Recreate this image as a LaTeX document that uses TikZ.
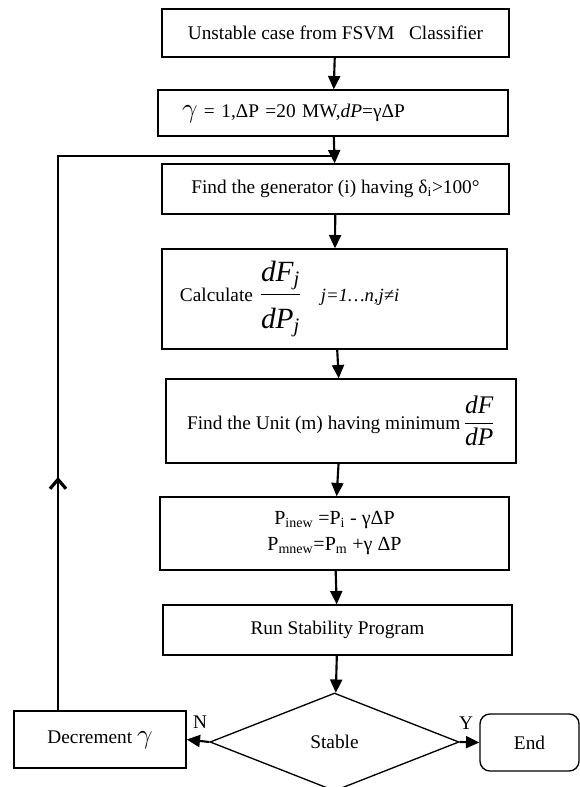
\documentclass[tikz,border=0pt]{standalone}
\usepackage{amsmath}
\usepackage{fontspec}
\setmainfont{Liberation Serif}
\usetikzlibrary{shapes.geometric,arrows.meta,decorations.markings}

\begin{document}
\begin{tikzpicture}[x=0.75pt,y=-0.75pt,
    box/.style={draw,line width=1pt,inner sep=0pt,align=center,font=\fontsize{14.5}{18}\selectfont},
    link/.style={line width=1.6pt,-{Triangle[length=10pt,width=9pt]}}]
            \useasboundingbox (0,0) rectangle (580,787);

            \node[box,minimum width=260.3pt,minimum height=36pt] (unstable) at (335.5,33) {Unstable case from FSVM\ \ \ Classifier};
            \node[box,text width=226.5pt,inner xsep=18pt,minimum height=34.5pt,align=left] (init) at (333,113) {{\fontsize{21}{21}\selectfont$\gamma$} = 1,ΔP =20 MW,\textit{dP}=γΔP};
            \node[box,minimum width=260.3pt,minimum height=37.5pt] (generator) at (335.5,189) {Find the generator (i) having δ\textsubscript{i}>100°};
            \node[box,text width=231.8pt,inner xsep=13.5pt,minimum height=75pt,align=left] (calc) at (334.5,299) {Calculate {\fontsize{22}{26}\selectfont$\dfrac{\textit{dF}_{\textit{j}}\rule[-7pt]{0pt}{0pt}}{\rule{0pt}{23pt}\textit{dP}_{\textit{j}}}$}\ \ \ {\fontsize{14}{16}\selectfont\textit{j=1…n,j≠i}}};
            \node[box,minimum width=262.5pt,minimum height=63pt] (unit) at (341,421) {Find the Unit (m) having minimum\,{\fontsize{19}{23}\selectfont$\dfrac{\textit{dF}}{\textit{dP}}$}};
            \node[box,minimum width=261.8pt,minimum height=54.8pt,font=\fontsize{15}{19.5}\selectfont] (update) at (334.5,533.5) {P\textsubscript{inew} =P\textsubscript{i} - γΔP\\P\textsubscript{mnew}=P\textsubscript{m} +γ ΔP};
            \node[box,minimum width=261.8pt,minimum height=37.5pt] (run) at (337.5,630) {Run Stability Program};
            \node[box,diamond,minimum width=186.8pt,minimum height=73.5pt] (stable) at (334.5,742) {Stable};
            \node[box,minimum width=129pt,minimum height=42.8pt] (decrement) at (100,739.5) {Decrement {\fontsize{22}{22}\selectfont$\gamma$}};
            \node[box,rounded corners=7.5pt,minimum width=74.3pt,minimum height=42.8pt] (end) at (529.5,742.5) {End};
            \node[font=\fontsize{14.5}{18}\selectfont] (no) at (200,722) {N};
            \node[font=\fontsize{14.5}{18}\selectfont] (yes) at (466,723) {Y};
            \coordinate (loop) at (58,156);

            \draw[link] (unstable) -- (init);
            \draw[link] (init) -- (generator);
            \draw[link] (generator) -- (calc);
            \draw[link] (calc) -- (unit);
            \draw[link] (unit) -- (update);
            \draw[link] (update) -- (run);
            \draw[link] (run) -- (stable);
            \draw[link] (stable.west) -- (decrement.east);
            \draw[link] (stable.east) -- (end.west);
            \draw[line width=1pt,postaction={decorate,decoration={markings,
                mark=at position 175pt with {\arrow{Straight Barb[length=7pt,width=12pt,line width=2.4pt]}}}}]
                (decrement.north -| loop) -- (loop) -- (loop -| generator.north);
        \end{tikzpicture}
\end{document}
